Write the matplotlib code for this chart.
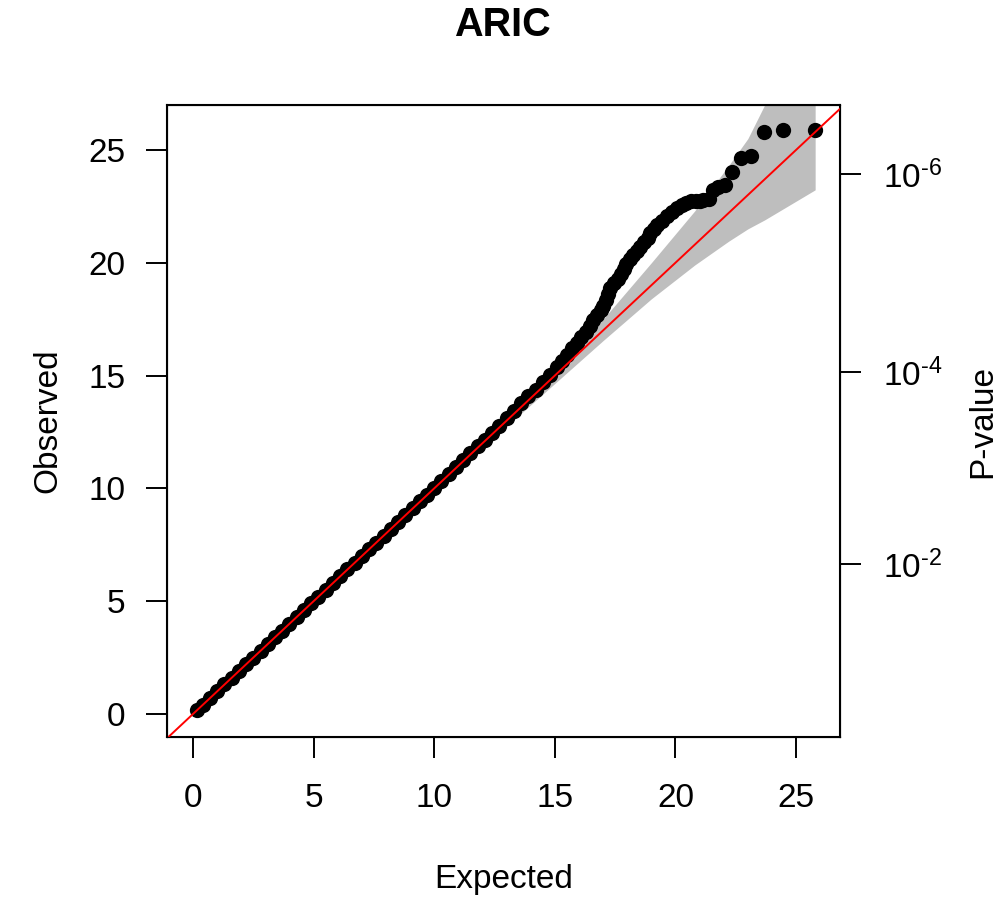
import matplotlib.pyplot as plt

plt.rcParams['font.family'] = ['Liberation Sans', 'DejaVu Sans']
plt.rcParams['mathtext.fontset'] = 'custom'
plt.rcParams['mathtext.rm'] = 'Liberation Sans'
plt.rcParams['mathtext.it'] = 'Liberation Sans:italic'

# QQ points (expected vs observed chi-square statistic)
expected = [0.15, 0.4, 0.7, 1.0, 1.3, 1.6, 1.9, 2.2, 2.5, 2.8, 3.1, 3.4, 3.7, 4.0,
            4.3, 4.6, 4.9, 5.2, 5.5, 5.8, 6.1, 6.4, 6.7, 7.0, 7.3, 7.6, 7.9, 8.2,
            8.5, 8.8, 9.1, 9.4, 9.7, 10.0, 10.3, 10.6, 10.9, 11.2, 11.5, 11.8, 12.1,
            12.4, 12.7, 13.0, 13.3, 13.6, 13.9, 14.2, 14.5, 14.8,
            15.1, 15.3, 15.5, 15.7, 15.9, 16.1, 16.3, 16.45, 16.6, 16.75, 16.9, 17.0,
            17.1, 17.2, 17.3, 17.45, 17.6, 17.75, 17.85, 17.95, 18.1, 18.25, 18.4,
            18.55, 18.7, 18.85, 18.95, 19.1, 19.25, 19.45, 19.65, 19.85, 20.05, 20.25,
            20.45, 20.65, 20.85, 21.0, 21.15, 21.37,
            21.57, 21.78, 22.06, 22.35, 22.71, 23.13, 23.67, 24.45, 25.79]
observed = [0.18, 0.42, 0.7, 1.0, 1.31, 1.6, 1.9, 2.21, 2.5, 2.8, 3.12, 3.4, 3.7, 4.0,
            4.3, 4.62, 4.9, 5.2, 5.5, 5.82, 6.1, 6.42, 6.7, 7.02, 7.3, 7.58, 7.9, 8.22,
            8.52, 8.8, 9.12, 9.42, 9.72, 10.02, 10.34, 10.65, 10.95, 11.25, 11.56, 11.86, 12.15,
            12.46, 12.78, 13.12, 13.45, 13.78, 14.08, 14.38, 14.7, 15.02,
            15.4, 15.65, 15.92, 16.2, 16.45, 16.7, 16.95, 17.2, 17.45, 17.7, 17.9, 18.1,
            18.35, 18.6, 18.9, 19.1, 19.3, 19.5, 19.7, 19.95, 20.15, 20.35, 20.5,
            20.7, 20.9, 21.1, 21.3, 21.5, 21.65, 21.85, 22.05, 22.25, 22.42, 22.55,
            22.65, 22.72, 22.75, 22.75, 22.78, 22.82,
            23.23, 23.35, 23.45, 24.04, 24.63, 24.73, 25.78, 25.86, 25.89]

# confidence band
band_expected = [0.0, 5.0, 10.0, 13.0, 15.0, 17.0, 19.0, 20.8, 22.2, 23.0, 23.7, 25.79]
band_lower = [0.0, 4.95, 9.85, 12.75, 14.65, 16.55, 18.4, 19.9, 20.95, 21.5, 21.9, 23.23]
band_upper = [0.0, 5.05, 10.15, 13.3, 15.4, 17.5, 20.0, 22.3, 24.3, 25.5, 27.0, 32.0]

# right axis: chi-square (1 df) values matching these p-values
pvalue_ticks = [6.635, 15.137, 23.928]
pvalue_labels = [r'$10^{\text{-}2}$', r'$10^{\text{-}4}$', r'$10^{\text{-}6}$']

fig = plt.figure(figsize=(9.99, 9), dpi=100)
ax = fig.add_axes([167 / 999, 163 / 900, 673 / 999, 632 / 900])

ax.fill_between(band_expected, band_lower, band_upper, color='#BEBEBE', lw=0, zorder=1)
ax.plot(expected, observed, 'o', color='black', ms=11, mew=0, zorder=2)
ax.axline((0, 0), slope=1, color='red', lw=1.4, zorder=3)

ax.set_xlim(-1.078, 26.82)
ax.set_ylim(-1.02, 26.99)
ax.set_xticks([0, 5, 10, 15, 20, 25])
ax.set_yticks([0, 5, 10, 15, 20, 25])
ax.tick_params(labelsize=24, length=15, width=1.4, pad=18)
ax.tick_params(axis='y', pad=15)
for s in ax.spines.values():
    s.set_linewidth(1.5)

ax2 = ax.twinx()
ax2.set_ylim(ax.get_ylim())
ax2.set_yticks(pvalue_ticks, pvalue_labels)
ax2.tick_params(labelsize=24, length=15, width=1.4, pad=16)

ax.set_xlabel('Expected', fontsize=24, labelpad=36)
ax.set_ylabel('Observed', fontsize=24, labelpad=18)
ax2.set_ylabel('P-value', fontsize=24, labelpad=18)
fig.text(0.503, 1 - 25 / 900, 'ARIC', ha='center', va='center', fontsize=28.5, weight='bold')

fig.savefig('out.png', dpi=100)
